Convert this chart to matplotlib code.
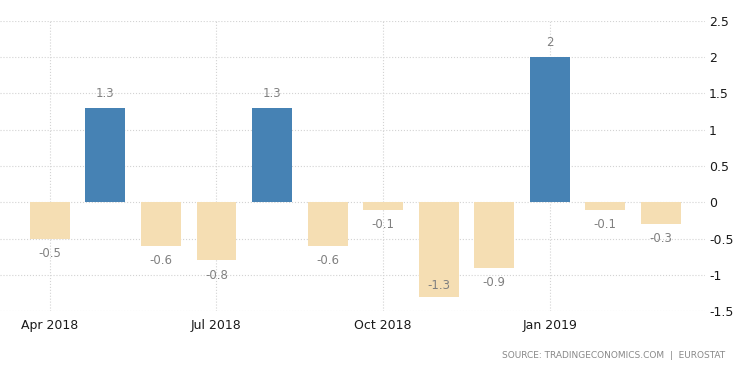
import matplotlib.pyplot as plt

# monthly change, Apr 2018 - Mar 2019
months = ["Apr 2018", "May 2018", "Jun 2018", "Jul 2018", "Aug 2018", "Sep 2018",
          "Oct 2018", "Nov 2018", "Dec 2018", "Jan 2019", "Feb 2019", "Mar 2019"]
values = [-0.5, 1.3, -0.6, -0.8, 1.3, -0.6, -0.1, -1.3, -0.9, 2, -0.1, -0.3]
tick_months = ["Apr 2018", "Jul 2018", "Oct 2018", "Jan 2019"]
y_ticks = [-1.5, -1, -0.5, 0, 0.5, 1, 1.5, 2, 2.5]

blue = "#4682b4"
beige = "#f5deb3"

fig = plt.figure(figsize=(7.5, 3.73), dpi=100)
ax = fig.add_axes([0.0, 0.166, 0.94, 0.778])

x = list(range(len(months)))
colors = [blue if v > 0 else beige for v in values]
ax.bar(x, values, width=0.72, color=colors, zorder=3)

for xi, v in zip(x, values):
    label = f"{v:g}"
    if v >= 0:
        ax.annotate(label, (xi, v), xytext=(0, 6), textcoords="offset points",
                    ha="center", va="bottom", fontsize=8.5, color="#808080", zorder=4)
    elif v < -1.1:
        # no room below the bar, label goes inside it
        ax.annotate(label, (xi, v), xytext=(0, 3), textcoords="offset points",
                    ha="center", va="bottom", fontsize=8.5, color="#808080", zorder=4)
    else:
        ax.annotate(label, (xi, v), xytext=(0, -6), textcoords="offset points",
                    ha="center", va="top", fontsize=8.5, color="#808080", zorder=4)

ax.set_xlim(-0.9, 11.8)
ax.set_ylim(-1.5, 2.5)
ax.set_yticks(y_ticks)
ax.set_yticklabels([f"{t:g}" for t in y_ticks])
ax.yaxis.tick_right()
ax.set_xticks([months.index(m) for m in tick_months])
ax.set_xticklabels(tick_months)

ax.tick_params(axis="both", length=0, labelsize=9, colors="#1a1a1a")
ax.tick_params(axis="y", pad=3)
ax.tick_params(axis="x", pad=6)

ax.grid(True, color="#d3d3d3", linestyle=":", linewidth=0.8, zorder=0)
for s in ax.spines.values():
    s.set_visible(False)

fig.text(0.967, 0.048, "SOURCE: TRADINGECONOMICS.COM  |  EUROSTAT", ha="right",
         va="center", fontsize=6.5, color="#888888")

fig.savefig("out.png", dpi=100)
